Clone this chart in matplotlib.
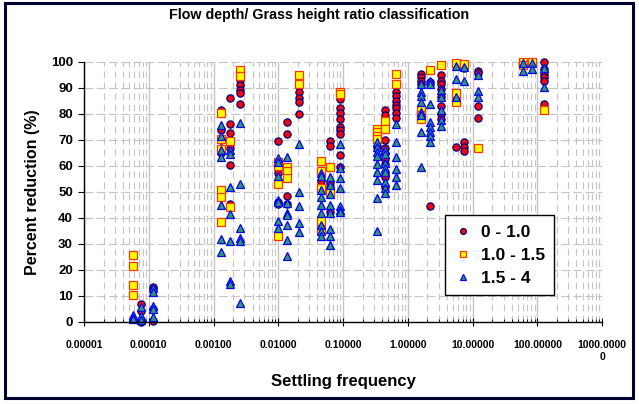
import numpy as np
import matplotlib.pyplot as plt
from matplotlib.patches import Rectangle
from matplotlib.ticker import FixedLocator, LogLocator, NullFormatter

plt.rcParams['font.family'] = ['Liberation Sans', 'DejaVu Sans']
plt.rcParams['font.weight'] = 'bold'

# settling frequency of each test group
freq = [5.8e-5, 7.7e-5, 1.15e-4, 1.32e-3, 1.78e-3, 2.57e-3, 0.0098, 0.0135,
        0.0206, 0.046, 0.062, 0.091, 0.33, 0.45, 0.66, 1.6, 2.2, 3.2, 5.5,
        7.4, 12, 60, 82, 124]

# percent reduction per group, one list per flow depth / grass height class
red_0_10 = [
    [], [6.9, 4.2, 0.8, 0.0], [13.4, 12.6, 5.0, 0.5],
    [81.3, 73.7, 69.8, 66.0, 65.0], [86.0, 76.0, 72.5, 67.0, 60.3, 45.4],
    [93.0, 91.0, 89.0, 88.0, 83.6], [69.6, 60.3, 57.3, 46.3, 45.5],
    [77.0, 72.4, 48.6, 45.5], [90.6, 88.5, 86.0, 84.5, 80.1], [57.3, 54.0],
    [69.6, 67.7, 53.3, 52.0, 42.1],
    [85.7, 82.3, 80.3, 78.1, 74.9, 73.9, 72.4, 64.1, 59.4], [67.3],
    [81.3, 79.4, 70.1, 66.7, 64.8, 62.8, 60.9, 56.9, 55.9, 52.0],
    [88.5, 87.0, 85.1, 83.4, 82.3, 80.3, 78.4], [95.3, 94.0, 92.7, 91.5],
    [92.1, 44.4], [95.0, 92.7, 91.5, 89.6, 86.4, 83.2, 80.0, 78.1], [67.3],
    [97.5, 69.2, 67.3, 65.8], [96.6, 95.6, 82.9, 78.5], [], [],
    [100.0, 97.2, 95.3, 94.0, 92.7, 83.8]]

red_10_15 = [
    [25.6, 21.4, 14.1, 10.3], [], [], [80.2, 70.2, 66.4, 50.8, 48.0, 38.5],
    [69.6, 44.3], [97.0, 94.7], [61.6, 60.0, 53.0, 33.0], [59.7, 58.0, 55.5],
    [95.0, 91.6], [61.8, 58.1, 51.5, 39.0, 35.5], [59.4, 49.9], [88.3, 87.5],
    [74.0, 73.2, 71.4, 70.5], [77.2, 74.2], [95.3, 91.5], [81.3, 79.4, 77.9],
    [96.8], [98.9], [99.7, 87.9, 84.5], [99.1], [66.9], [100.0, 98.8],
    [100.0], [81.5]]

red_15_4 = [
    [2.5, 1.5, 1.0], [5.7, 2.3, 0.8], [13.0, 11.5, 6.0, 5.0, 2.0],
    [75.6, 71.4, 66.0, 63.4, 45.0, 32.0, 27.0],
    [66.0, 64.5, 52.0, 41.6, 31.0, 15.6, 14.5],
    [76.3, 53.0, 36.0, 32.4, 31.0, 7.2],
    [63.0, 61.5, 56.0, 47.0, 46.0, 38.7, 36.0],
    [63.5, 45.8, 42.0, 41.0, 37.4, 31.7, 25.2],
    [68.3, 50.0, 44.4, 38.2, 34.5],
    [57.4, 56.0, 50.8, 48.2, 45.0, 42.0, 37.2, 35.0, 33.2],
    [55.8, 52.7, 49.2, 45.0, 42.0, 35.9, 32.9, 29.5],
    [68.6, 59.0, 55.2, 51.4, 44.4, 43.2, 42.3],
    [69.2, 67.3, 65.5, 63.8, 60.6, 57.8, 54.6, 47.8, 34.8],
    [66.0, 64.4, 61.3, 59.0, 57.5, 53.9, 51.6, 49.5],
    [76.0, 69.0, 63.6, 58.8, 55.9, 52.7],
    [91.5, 88.3, 87.0, 84.7, 80.9, 79.4, 73.0, 59.7],
    [92.7, 91.5, 83.8, 76.8, 74.9, 73.0, 71.5, 69.2],
    [89.3, 86.4, 81.3, 77.5, 75.2], [98.5, 93.4, 86.6], [98.1, 92.7],
    [95.0, 88.9, 86.4], [99.7, 96.6], [99.7, 97.2], [97.8, 90.4]]

decades = [1e-5, 1e-4, 1e-3, 1e-2, 1e-1, 1, 10, 100, 1000]
xlabels = ['0.00001', '0.00010', '0.00100', '0.01000', '0.10000', '1.00000',
           '10.00000', '100.00000', '1000.0000\n0']


def flatten(groups):
    xs = np.repeat(freq, [len(g) for g in groups])
    ys = np.concatenate([np.asarray(g, float) for g in groups])
    return xs, ys


fig = plt.figure(figsize=(6.39, 4.04), dpi=100)
fig.patches.append(Rectangle((0.008, 0.015), 0.982, 0.978, transform=fig.transFigure,
                             fill=False, edgecolor='#000033', linewidth=2.2))

ax = fig.add_axes([0.1315, 0.203, 0.811, 0.644])
ax.set_xscale('log')
ax.set_xlim(1e-5, 1e3)
ax.set_ylim(0, 100)

# background grid
ax.xaxis.set_minor_locator(LogLocator(base=10, subs=np.arange(2, 10)))
ax.xaxis.set_minor_formatter(NullFormatter())
ax.grid(True, which='major', axis='x', color='#c4c4c4', linewidth=1.0)
ax.grid(True, which='minor', axis='x', color='#c4c4c4', linewidth=0.8,
        linestyle=(0, (6, 4)))
ax.grid(True, which='major', axis='y', color='#c4c4c4', linewidth=0.8,
        linestyle=(0, (8, 3)))
ax.set_axisbelow(True)

series = [
    (red_0_10, '0 - 1.0', dict(marker='o', mfc='#ff0000', mec='#000080')),
    (red_10_15, '1.0 - 1.5', dict(marker='s', mfc='#ffff00', mec='#ff3300')),
    (red_15_4, '1.5 - 4', dict(marker='^', mfc='#339966', mec='#0000ff')),
]
for groups, lab, st in series:
    xs, ys = flatten(groups)
    ax.plot(xs, ys, linestyle='none', markersize=5.2, markeredgewidth=0.9,
            label=lab, clip_on=False, **st)

for s in ['top', 'right']:
    ax.spines[s].set_visible(False)
ax.spines['left'].set_linewidth(1.0)
ax.spines['bottom'].set_linewidth(1.0)

ax.xaxis.set_major_locator(FixedLocator(decades))
ax.set_xticklabels(xlabels, fontsize=7.5, fontweight='bold', va='top')
ax.set_yticks(np.arange(0, 101, 10))
ax.set_yticklabels([str(v) for v in range(0, 101, 10)], fontsize=9.5, fontweight='bold')
ax.tick_params(axis='x', which='major', direction='inout', length=6, pad=10)
ax.tick_params(axis='x', which='minor', direction='in', length=2)
ax.tick_params(axis='y', direction='out', length=4, pad=4)

ax.set_xlabel('Settling frequency', fontsize=12, fontweight='bold', labelpad=9)
ax.set_ylabel('Percent reduction (%)', fontsize=11.5, fontweight='bold', labelpad=8)
fig.text(0.5, 0.962, 'Flow depth/ Grass height ratio classification', ha='center',
         va='center', fontsize=10.3, fontweight='bold')

leg = ax.legend(loc='upper left', bbox_to_anchor=(0.697, 0.41), borderaxespad=0,
                frameon=True, fancybox=False, edgecolor='black', framealpha=1,
                prop={'weight': 'bold', 'size': 12.5}, handletextpad=0.5,
                handlelength=1.0, markerscale=0.8, borderpad=0.55,
                labelspacing=0.45)
leg.get_frame().set_linewidth(1.0)

fig.savefig('out.png', dpi=100)
